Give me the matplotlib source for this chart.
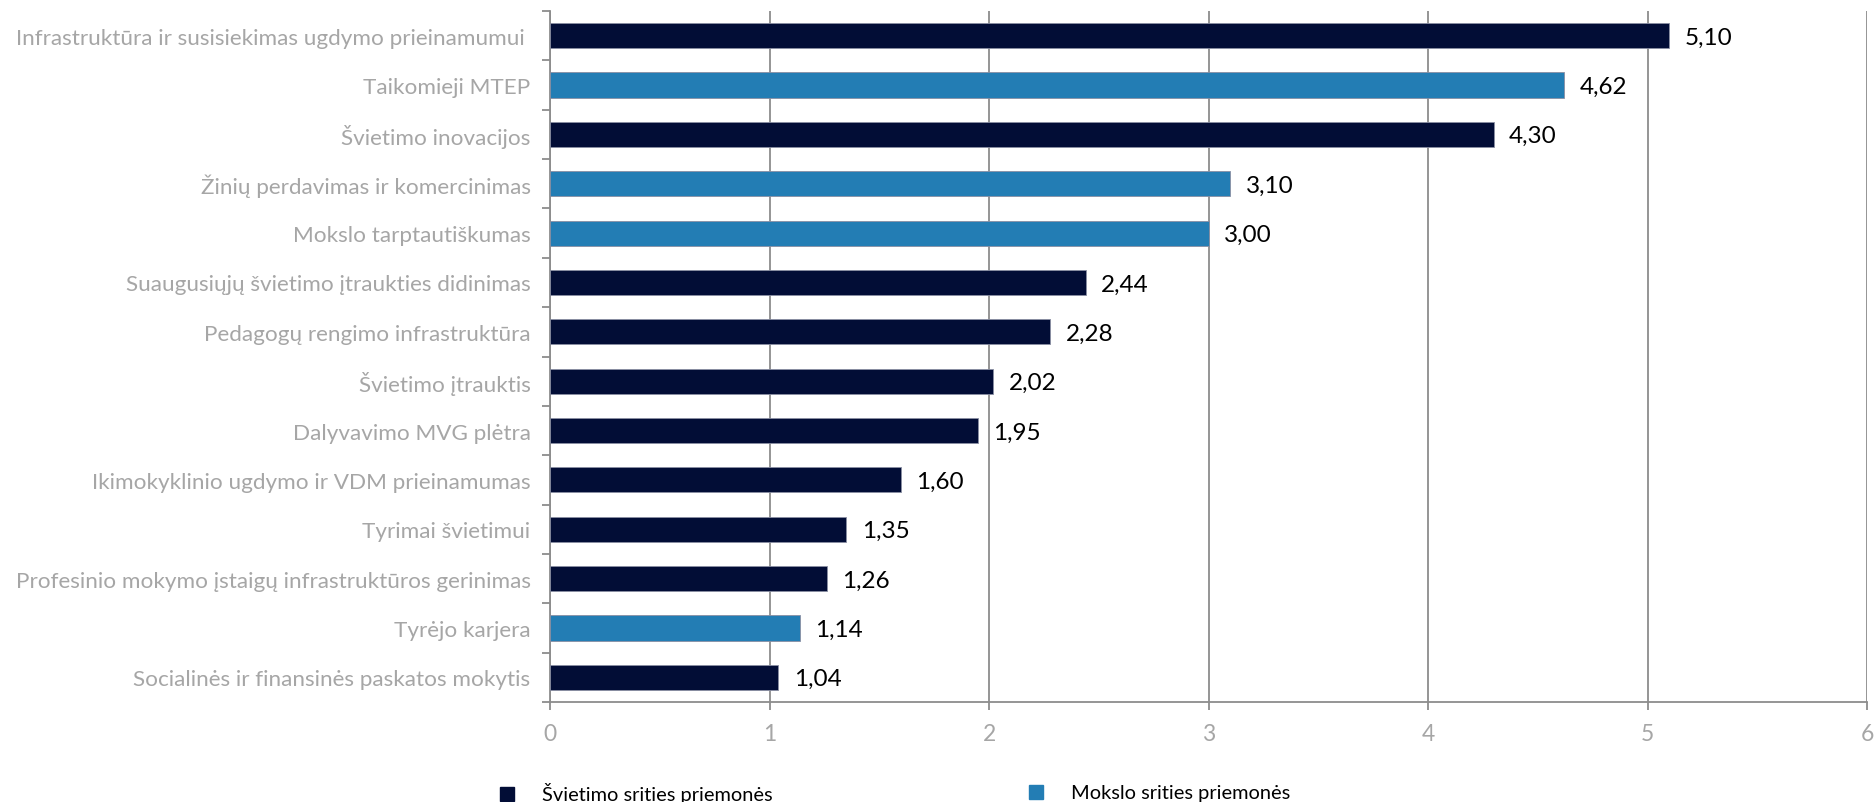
import matplotlib.pyplot as plt
import matplotlib.patches as mpatches
import numpy as np

# data, top to bottom as in the chart
labels = [
    "Infrastruktūra ir susisiekimas ugdymo prieinamumui ",
    "Taikomieji MTEP",
    "Švietimo inovacijos",
    "Žinių perdavimas ir komercinimas",
    "Mokslo tarptautiškumas",
    "Suaugusiųjų švietimo įtraukties didinimas",
    "Pedagogų rengimo infrastruktūra",
    "Švietimo įtrauktis",
    "Dalyvavimo MVG plėtra",
    "Ikimokyklinio ugdymo ir VDM prieinamumas",
    "Tyrimai švietimui",
    "Profesinio mokymo įstaigų infrastruktūros gerinimas",
    "Tyrėjo karjera",
    "Socialinės ir finansinės paskatos mokytis",
]
values = [5.10, 4.62, 4.30, 3.10, 3.00, 2.44, 2.28, 2.02, 1.95, 1.60, 1.35, 1.26, 1.14, 1.04]
groups = ["S", "M", "S", "M", "M", "S", "S", "S", "S", "S", "S", "S", "M", "S"]
legend_names = {"S": "Švietimo srities priemonės", "M": "Mokslo srities priemonės"}

DARK = "#020D36"
BLUE = "#237DB4"
GRAY_TXT = "#A6A6A6"
GRID = "#8C8C8C"
colors = {"S": DARK, "M": BLUE}

plt.rcParams["font.family"] = ["Lato", "DejaVu Sans"]

fig = plt.figure(figsize=(18.76, 8.03), dpi=100)
ax = fig.add_axes([550 / 1876, 1 - 703 / 803, (1867 - 550) / 1876, (703 - 12) / 803])

y = np.arange(len(labels))
bar_colors = [colors[g] for g in groups]
bars = ax.barh(y, values, height=0.51, color=bar_colors, edgecolor="#8A8FA3",
               linewidth=0.6, zorder=3)

ax.set_xlim(0, 6)
ax.set_ylim(len(labels) - 0.5, -0.5)

# data labels
for b, v in zip(bars, values):
    ax.annotate(f"{v:.2f}".replace(".", ","),
                (b.get_width(), b.get_y() + b.get_height() / 2),
                xytext=(11, -1), textcoords="offset points",
                ha="left", va="center", fontsize=17.5, color="black")

# y axis: labels at bars, ticks between categories
ax.set_yticks(y)
ax.set_yticklabels(labels, fontsize=16.2, color=GRAY_TXT)
ax.tick_params(axis="y", length=0, pad=14)
ax.set_yticks(np.arange(len(labels) + 1) - 0.5, minor=True)
ax.tick_params(axis="y", which="minor", length=6, width=1.3, color=GRID, direction="out")

ax.set_xticks(range(0, 7))
ax.tick_params(axis="x", length=6, width=1.3, color=GRID, labelsize=16.5,
               labelcolor=GRAY_TXT, pad=9)

ax.grid(axis="x", color=GRID, linewidth=1.3, zorder=0)
ax.set_axisbelow(True)
for side in ["top", "right"]:
    ax.spines[side].set_visible(False)
for side in ["left", "bottom"]:
    ax.spines[side].set_color(GRID)
    ax.spines[side].set_linewidth(1.3)

# legend, two entries spread across the bottom
for key, xpos in [("S", 500 / 1876), ("M", 1029 / 1876)]:
    h = mpatches.Patch(color=colors[key], label=legend_names[key])
    fig.legend(handles=[h], loc="center left", bbox_to_anchor=(xpos, 1 - 794 / 803),
               frameon=False, fontsize=14.4, handlelength=0.7, handleheight=0.7,
               handletextpad=1.4, borderpad=0, borderaxespad=0)

fig.savefig("out.png", dpi=100)
